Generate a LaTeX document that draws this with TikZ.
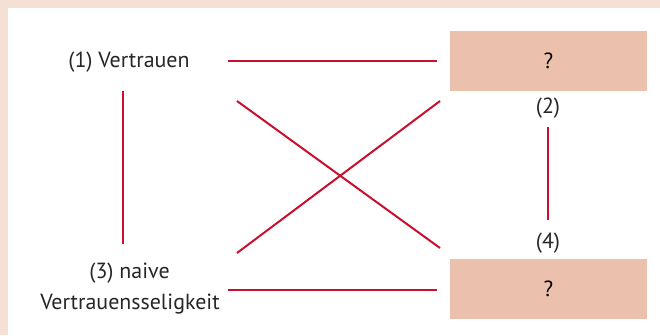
\documentclass[tikz,border=0pt]{standalone}
\usepackage{fontspec}
\setmainfont{PT Sans}
\definecolor{framepink}{HTML}{F5E0D5}
\definecolor{boxfill}{HTML}{EBC0AC}
\definecolor{linered}{HTML}{C8102E}
\begin{document}
\begin{tikzpicture}[x=1bp,y=-1bp,
  lbl/.style={font=\fontsize{22}{26}\selectfont, text=black!85, inner sep=0pt},
  qbox/.style={fill=boxfill, minimum width=197bp, minimum height=60bp, inner sep=0pt, font=\fontsize{22}{26}\selectfont},
  conn/.style={draw=linered, line width=2bp}]
\fill[framepink] (0,0) rectangle (660,335);
\fill[white] (8,8) rectangle (660,335);
\useasboundingbox (0,0) rectangle (660,335);
\node[lbl] (v1) at (129,62) {(1) Vertrauen};
\node[lbl] (v3a) at (129.5,273) {(3) naive};
\node[lbl] (v3b) at (130,304) {Vertrauensseligkeit};
\node[qbox] (b1) at (548.5,61) {?};
\node[qbox] (b2) at (548.5,289) {?};
\node[lbl] (n2) at (548,108) {(2)};
\node[lbl] (n4) at (548,243) {(4)};
\coordinate (t1) at (228,61); \coordinate (t2) at (437,61);
\coordinate (u1) at (228,290); \coordinate (u2) at (437,290);
\coordinate (l1) at (123,91); \coordinate (l2) at (123,244);
\coordinate (r1) at (548,127); \coordinate (r2) at (548,220);
\coordinate (d1) at (237,101); \coordinate (d2) at (440,248);
\coordinate (e1) at (237,253); \coordinate (e2) at (440,101);
\draw[conn] (t1) -- (t2);
\draw[conn] (u1) -- (u2);
\draw[conn] (l1) -- (l2);
\draw[conn] (r1) -- (r2);
\draw[conn] (d1) -- (d2);
\draw[conn] (e1) -- (e2);
\end{tikzpicture}
\end{document}
